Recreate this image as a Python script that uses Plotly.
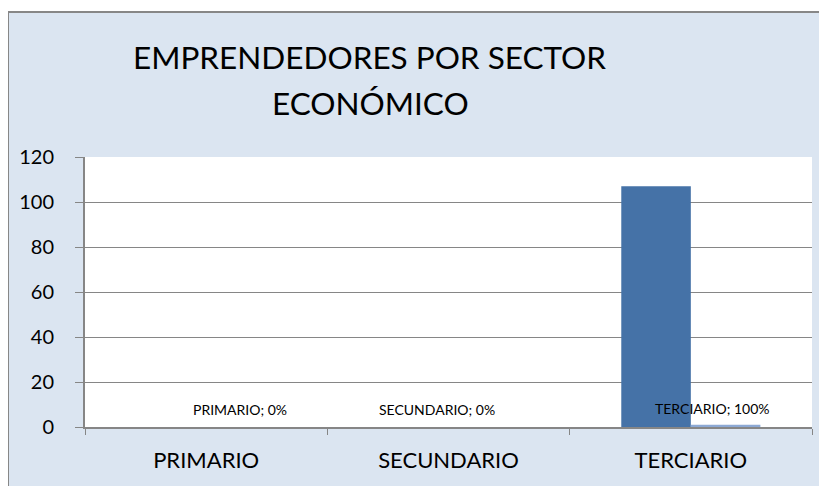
import plotly.graph_objects as go

categories = ["PRIMARIO", "SECUNDARIO", "TERCIARIO"]
emprendedores = [0, 0, 107]
porcentaje = [0, 0, 1]
label_text = ["PRIMARIO; 0%", "SECUNDARIO; 0%", "TERCIARIO; 100%"]
y_ticks = [0, 20, 40, 60, 80, 100, 120]

FONT = "Lato"
W, H = 827, 486
OFF = 8  # page body margin offset
ML, MR, MT, MB = 85 - OFF, 827 - 812 + OFF, 157 - OFF, 486 - 427 + OFF
PW, PH = W - ML - MR, H - MT - MB


def px_x(x):
    return (x - OFF - ML) / PW


def px_y(y):
    return (H - MB - (y - OFF)) / PH


fig = go.Figure()
fig.add_trace(go.Bar(x=categories, y=emprendedores, marker_color="#4572A7",
                     marker_line_width=0, name="Emprendedores"))
fig.add_trace(go.Bar(x=categories, y=porcentaje, marker_color="#8DA9D4",
                     marker_line_width=0, name="Porcentaje"))

xshifts = [34, -12, 22]
for c, v, t, s in zip(categories, porcentaje, label_text, xshifts):
    fig.add_annotation(x=c, y=v, text=t, showarrow=False, xshift=s, yshift=18 - v * 2,
                       font=dict(family=FONT, size=14, color="#000000"))

fig.add_annotation(xref="paper", yref="paper", x=px_x(369), y=px_y(57),
                   text="EMPRENDEDORES POR SECTOR", showarrow=False,
                   xanchor="center", yanchor="middle",
                   font=dict(family=FONT, size=31.5, color="#000000"))
fig.add_annotation(xref="paper", yref="paper", x=px_x(370), y=px_y(103),
                   text="ECONÓMICO", showarrow=False,
                   xanchor="center", yanchor="middle",
                   font=dict(family=FONT, size=31.5, color="#000000"))

# chart area background with border
fig.add_shape(type="rect", xref="paper", yref="paper", layer="below",
              x0=px_x(8), x1=px_x(W + 20), y0=px_y(H + 20), y1=px_y(12),
              fillcolor="#DBE5F1", line=dict(color="#878787", width=2))
fig.add_shape(type="rect", xref="paper", yref="paper", layer="below",
              x0=0, x1=1, y0=0, y1=1, fillcolor="#FFFFFF", line_width=0)

fig.update_layout(
    width=W, height=H,
    margin=dict(l=ML, r=MR, t=MT, b=MB),
    paper_bgcolor="#FFFFFF", plot_bgcolor="rgba(0,0,0,0)",
    barmode="group", bargap=0.426, bargroupgap=0,
    showlegend=False,
    font=dict(family=FONT, color="#000000"),
    xaxis=dict(showgrid=False, showline=True, linecolor="#868686", linewidth=2,
               ticks="outside", tickson="boundaries", ticklen=6, tickcolor="#868686",
               tickfont=dict(size=22, family=FONT), ticklabelstandoff=13),
    yaxis=dict(range=[0, 120], tickvals=y_ticks, showgrid=True, gridcolor="#868686",
               gridwidth=1, showline=True, linecolor="#868686", linewidth=2,
               ticks="outside", ticklen=8, tickcolor="#868686", zeroline=False,
               tickfont=dict(size=20, family=FONT), ticklabelstandoff=17),
)

fig.write_html("out.html")
